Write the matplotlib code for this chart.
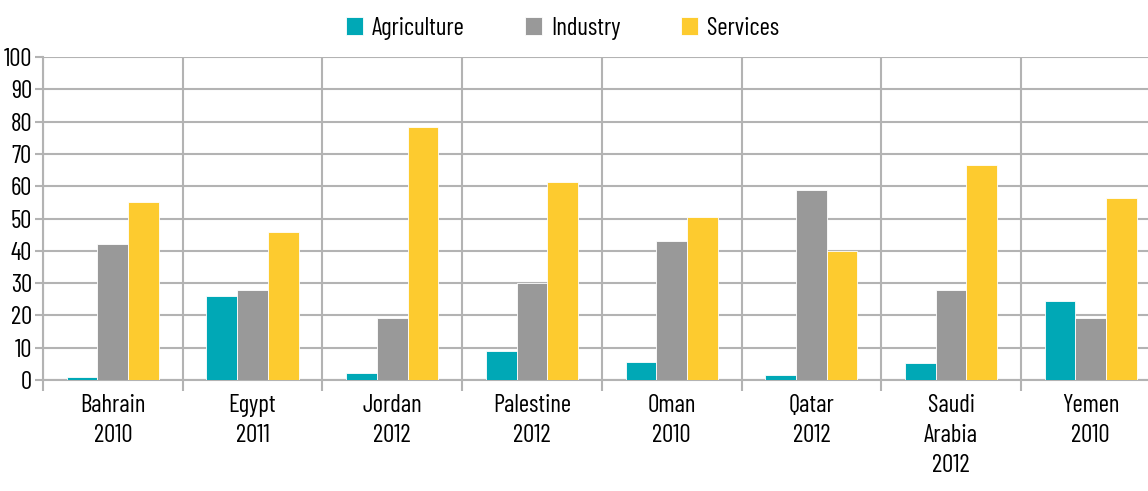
import matplotlib.pyplot as plt
import numpy as np

# sector shares of employment (%) by country / year
countries = ["Bahrain\n2010", "Egypt\n2011", "Jordan\n2012", "Palestine\n2012",
             "Oman\n2010", "Qatar\n2012", "Saudi\nArabia\n2012", "Yemen\n2010"]
agriculture = [1, 26, 2.2, 8.9, 5.7, 1.5, 5.4, 24.5]
industry = [42, 28, 19.3, 30.1, 42.9, 58.8, 28, 19.3]
services = [55.1, 45.8, 78.4, 61.4, 50.5, 40, 66.6, 56.4]

plt.rcParams['font.family'] = ['Barlow Condensed', 'DejaVu Sans']

grid_col = "#b3b3b3"
colors = ["#00a8b6", "#999999", "#fdcb2f"]

fig = plt.figure(figsize=(11.48, 4.91), dpi=100)
ax = fig.add_axes([43 / 1148, 111 / 491, 1117.6 / 1148, 323 / 491])

x = np.arange(len(countries))
w = 0.22
for i, (vals, lab) in enumerate(zip([agriculture, industry, services],
                                    ["Agriculture", "Industry", "Services"])):
    ax.bar(x + (i - 1) * w, vals, w, color=colors[i], label=lab,
           edgecolor="white", linewidth=0.6, zorder=3)

ax.set_xlim(-0.5, len(countries) - 0.5)
ax.set_ylim(0, 100)
ax.set_yticks(range(0, 101, 10))
ax.yaxis.grid(True, color=grid_col, linewidth=1.5, zorder=0)

# group separators
ax.set_xticks(np.arange(len(countries) + 1) - 0.5)
ax.set_xticklabels([])
ax.xaxis.grid(True, color=grid_col, linewidth=1.5, zorder=0)
ax.set_xticks(x, minor=True)
ax.set_xticklabels(countries, minor=True, fontsize=18, linespacing=1.38)
ax.tick_params(axis="x", which="major", length=8, width=1.5, color=grid_col)
ax.tick_params(axis="x", which="minor", length=0, pad=10)
ax.tick_params(axis="y", length=6, width=1.5, color=grid_col, labelsize=18, pad=2)

for s in ["top", "right"]:
    ax.spines[s].set_visible(False)
for s in ["left", "bottom"]:
    ax.spines[s].set_color(grid_col)
    ax.spines[s].set_linewidth(1.5)

fig.legend(loc="upper center", bbox_to_anchor=(0.49, 1.012), ncol=3, frameon=False,
           fontsize=18, handlelength=0.7, handleheight=0.75, columnspacing=2.4,
           handletextpad=0.35)

fig.savefig("out.png", dpi=100)
